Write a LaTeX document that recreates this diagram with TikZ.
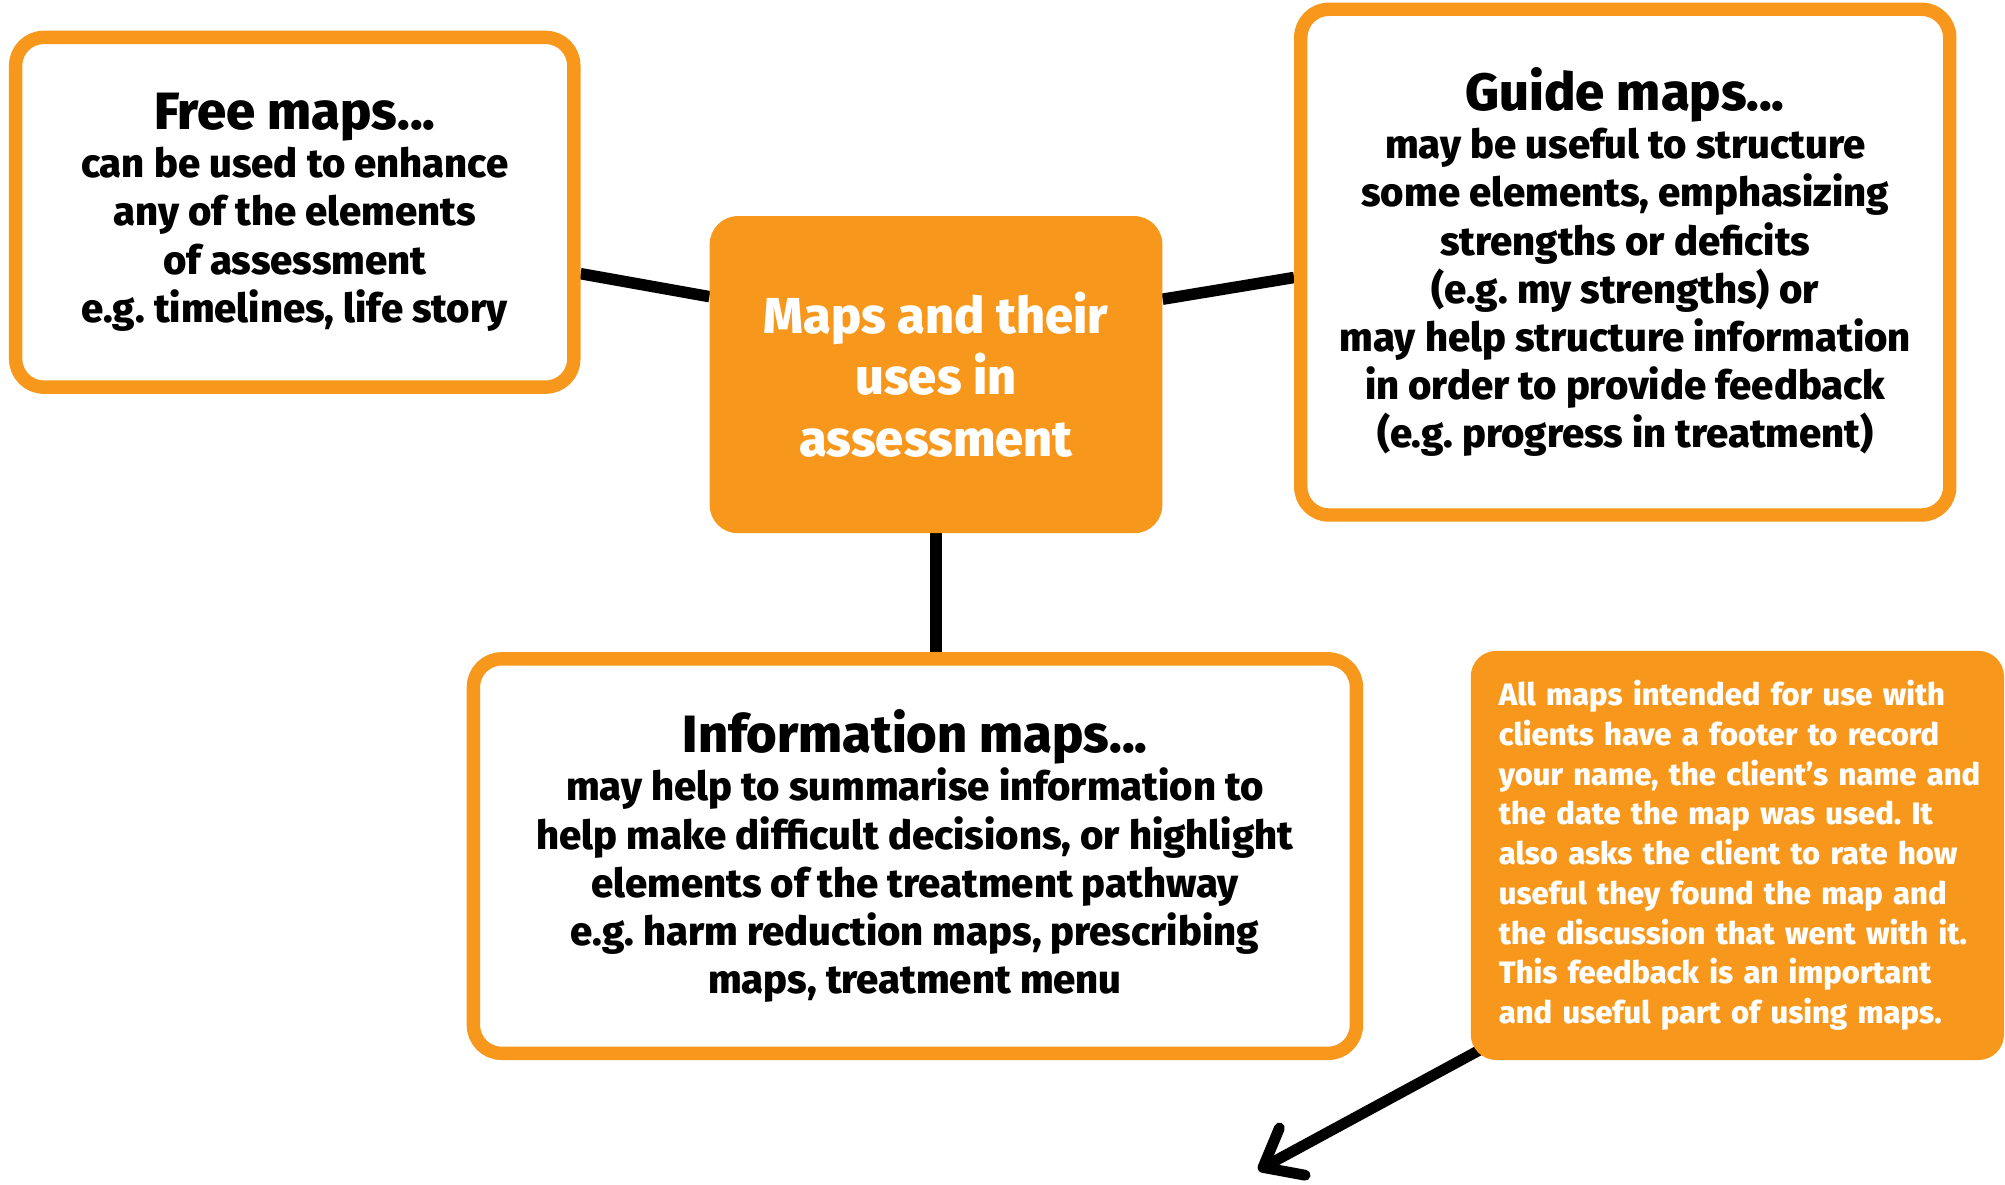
\documentclass[tikz,border=0pt]{standalone}
\usepackage{fontspec}
\setmainfont{Fira Sans}[BoldFont={* ExtraBold}]
\usetikzlibrary{arrows.meta,backgrounds,calc}
\definecolor{mapor}{HTML}{F7981D}
\newcommand\boxtitle[1]{{\fontsize{41}{48}\selectfont #1}}
\frenchspacing
\begin{document}
\begin{tikzpicture}[x=1pt,y=-1pt,
  outbox/.style={draw=mapor, line width=10.5pt, rounded corners=22pt, fill=white,
    align=center, inner sep=0pt, font=\bfseries\fontsize{31.3}{37.7}\selectfont},
  hubbox/.style={fill=mapor, rounded corners=22pt, text=white, align=center,
    inner sep=0pt, font=\bfseries\fontsize{39.5}{48}\selectfont},
  notebox/.style={fill=mapor, rounded corners=20pt, text=white, text width=373pt,
    inner xsep=22pt, inner ysep=0pt, minimum height=320pt, align=left,
    font=\bfseries\fontsize{24.2}{31.1}\selectfont},
  conn/.style={line width=9pt},
  pointer/.style={line width=8.5pt, -{Straight Barb[round, length=26pt, width=42pt]}}]
\useasboundingbox (0,0) rectangle (1568,926);

\node[outbox, minimum width=436.5pt, minimum height=273.5pt] (free) at (230.5,166)
  {\boxtitle{Free maps...}\\can be used to enhance\\any of the elements\\of assessment\\e.g. timelines, life story};

\node[hubbox, minimum width=354pt, minimum height=248pt] (central) at (732,293)
  {Maps and their\\uses in\\assessment};

\node[outbox, minimum width=507.5pt, minimum height=395.5pt] (guide) at (1271,205)
  {\boxtitle{Guide maps...}\\may be useful to structure\\some elements, emphasizing\\strengths or deficits\\(e.g. my strengths) or\\may help structure information\\in order to provide feedback\\(e.g. progress in treatment)};

\node[outbox, minimum width=690.5pt, minimum height=308.5pt] (info) at (715.5,669.5)
  {\boxtitle{Information maps...}\\may help to summarise information to\\help make difficult decisions, or highlight\\elements of the treatment pathway\\e.g. harm reduction maps, prescribing\\maps, treatment menu};

\node[notebox, anchor=west] (note) at (1150,669)
  {\mbox{All maps intended for use with}\\\mbox{clients have a footer to record}\\\mbox{your name, the client’s name and}\\\mbox{the date the map was used. It}\\\mbox{also asks the client to rate how}\\\mbox{useful they found the map and}\\\mbox{the discussion that went with it.}\\\mbox{This feedback is an important}\\\mbox{and useful part of using maps.}};

\coordinate (tip) at (984,915);

\begin{scope}[on background layer]
  \draw[conn] ([yshift=-48pt]free.east) -- ([yshift=61pt]central.west);
  \draw[conn] ([yshift=59pt]central.east) -- ([yshift=-12pt]guide.west);
  \draw[conn] (central.south) -- (central.south |- info.north);
  \draw[pointer] ([shift={(20pt,15pt)}]note.south west) -- (tip);
\end{scope}
\end{tikzpicture}
\end{document}
